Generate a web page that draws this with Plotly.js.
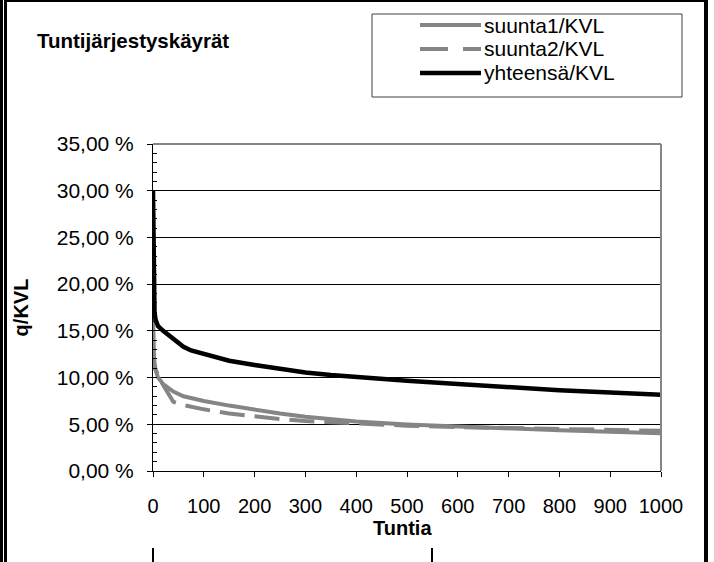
<!DOCTYPE html>
<html><head><meta charset="utf-8">
<script src="https://cdn.plot.ly/plotly-3.0.1.min.js"></script>
<style>html,body{margin:0;padding:0;background:#fff;}#chart{width:714px;height:562px;}</style>
</head><body><div id="chart"></div>
<script>
// ---- data ----
const chartTitle = 'Tuntijärjestyskäyrät';
const seriesNames = ['suunta1/KVL', 'suunta2/KVL', 'yhteensä/KVL'];
const xTitle = 'Tuntia';
const yTitle = 'q/KVL';

const hours1 = [0, 1, 2, 5, 10, 20, 40, 60, 75, 100, 150, 200, 250, 300, 350, 400, 500, 600, 700, 800, 900, 1000];
const suunta1 = [17.0, 13.0, 12.0, 10.8, 10.0, 9.3, 8.5, 8.0, 7.8, 7.5, 7.0, 6.55, 6.15, 5.8, 5.55, 5.3, 4.98, 4.75, 4.55, 4.35, 4.2, 4.05];

const hours2 = [0, 2, 20, 40, 60, 100, 150, 200, 250, 300, 400, 500, 600, 700, 800, 900, 1000];
const suunta2 = [13.0, 11.2, 9.2, 7.4, 7.05, 6.6, 6.15, 5.8, 5.55, 5.35, 5.05, 4.85, 4.7, 4.58, 4.45, 4.35, 4.3];

const hours3 = [0, 1, 2, 3, 5, 10, 20, 30, 40, 50, 60, 75, 100, 125, 150, 200, 250, 300, 350, 400, 450, 500, 600, 700, 800, 900, 1000];
const yhteensa = [30.0, 22.0, 18.5, 17.0, 16.2, 15.5, 15.0, 14.6, 14.1, 13.7, 13.3, 12.9, 12.5, 12.1, 11.8, 11.35, 10.9, 10.55, 10.28, 10.05, 9.85, 9.65, 9.3, 8.95, 8.65, 8.4, 8.15];

const xTicks = [0, 100, 200, 300, 400, 500, 600, 700, 800, 900, 1000];
const yTicks = [0, 5, 10, 15, 20, 25, 30, 35];
const yTickText = yTicks.map(v => v.toFixed(2).replace('.', ',') + ' %');

// ---- styles ----
const FONT = 'Liberation Sans, Arial, sans-serif';
const GRAY = '#858585';
const styles = [
  {color: GRAY, width: 4, dash: 'solid'},
  {color: GRAY, width: 4, dash: '25px,10px'},
  {color: '#000000', width: 4.5, dash: 'solid'}
];
const legendDash = ['solid', '28px,15px', 'solid'];

const W = 714, H = 562;
const L = 153, R = 661, T = 144, B = 471;
const px = v => (v - L) / (R - L);
const py = v => (B - v) / (B - T);

const xs = [hours1, hours2, hours3];
const ys = [suunta1, suunta2, yhteensa];
const traces = ys.map((y, i) => ({
  type: 'scatter', mode: 'lines', x: xs[i], y: y, name: seriesNames[i],
  line: {color: styles[i].color, width: styles[i].width, dash: styles[i].dash},
  showlegend: false, hoverinfo: 'skip'
}));

const shapes = [];
const rect = (x0, y0, x1, y1, fill) => shapes.push({type: 'rect', xref: 'paper', yref: 'paper',
  x0: px(x0), x1: px(x1), y0: py(y1), y1: py(y0), fillcolor: fill, line: {width: 0}, layer: 'above'});
// outer frame
rect(0, 0, 3, H, '#000');
rect(4, 0, 7, H, '#000');
rect(7, 0, 708, 2, '#000');
rect(704, 0, 708, H, '#000');
// fragments at the bottom edge
rect(152, 548, 154, H, '#000');
rect(431, 548, 433, H, '#000');
// plot area border (top and right)
shapes.push({type: 'line', xref: 'paper', yref: 'paper', x0: 0, x1: 1, y0: 1, y1: 1, line: {color: GRAY, width: 2}, layer: 'above'});
shapes.push({type: 'line', xref: 'paper', yref: 'paper', x0: 1, x1: 1, y0: 0, y1: 1, line: {color: GRAY, width: 2}, layer: 'above'});
// legend box
shapes.push({type: 'rect', xref: 'paper', yref: 'paper', x0: px(372), x1: px(682), y0: py(97), y1: py(14),
  line: {color: '#404040', width: 1}, fillcolor: 'rgba(0,0,0,0)', layer: 'above'});
const rows = [25, 49, 73];
const annotations = [];
seriesNames.forEach((n, i) => {
  shapes.push({type: 'line', xref: 'paper', yref: 'paper', x0: px(420), x1: px(481), y0: py(rows[i]), y1: py(rows[i]),
    line: {color: styles[i].color, width: styles[i].width, dash: legendDash[i]}, layer: 'above'});
  annotations.push({xref: 'paper', yref: 'paper', x: px(482), y: py(rows[i]), xanchor: 'left', yanchor: 'middle',
    text: n, showarrow: false, font: {family: FONT, size: 21, color: '#000'}});
});
// x-axis title, centred slightly left of the plot centre as in the original
annotations.push({xref: 'paper', yref: 'paper', x: px(402), y: py(528), xanchor: 'center', yanchor: 'middle',
  text: '<b>' + xTitle + '</b>', showarrow: false, font: {family: FONT, size: 20, color: '#000'}});

const layout = {
  width: W, height: H,
  margin: {l: L, r: W - R, t: T, b: H - B, pad: 0},
  paper_bgcolor: '#fff', plot_bgcolor: '#fff',
  font: {family: FONT, color: '#000', size: 20},
  showlegend: false,
  title: {text: '<b>' + chartTitle + '</b>', xref: 'container', yref: 'container',
    x: 37 / W, xanchor: 'left', y: 1 - 41 / H, yanchor: 'middle', font: {family: FONT, size: 20.5, color: '#000'}},
  xaxis: {range: [0, 1000], tickvals: xTicks, ticks: 'outside', ticklen: 5, tickcolor: '#000', tickwidth: 1,
    showline: true, linecolor: '#000', linewidth: 1, showgrid: false, zeroline: false,
    tickfont: {family: FONT, size: 20, color: '#000'}, ticklabelstandoff: 12},
  yaxis: {range: [0, 35], tickvals: yTicks, ticktext: yTickText, ticks: 'outside', ticklen: 5,
    tickcolor: '#000', tickwidth: 1, showline: true, linecolor: '#000', linewidth: 1,
    showgrid: true, gridcolor: '#000', gridwidth: 1, zeroline: false,
    minor: {dtick: 1, tick0: 0, ticks: 'inside', ticklen: 4, tickcolor: '#000', showgrid: false},
    tickfont: {family: FONT, size: 21, color: '#000'}, ticklabelstandoff: 9,
    title: {text: '<b>' + yTitle + '</b>', font: {family: FONT, size: 20, color: '#000'}, standoff: 22}},
  shapes: shapes, annotations: annotations
};

Plotly.newPlot('chart', traces, layout, {displayModeBar: false, staticPlot: true});
</script>
</body></html>
